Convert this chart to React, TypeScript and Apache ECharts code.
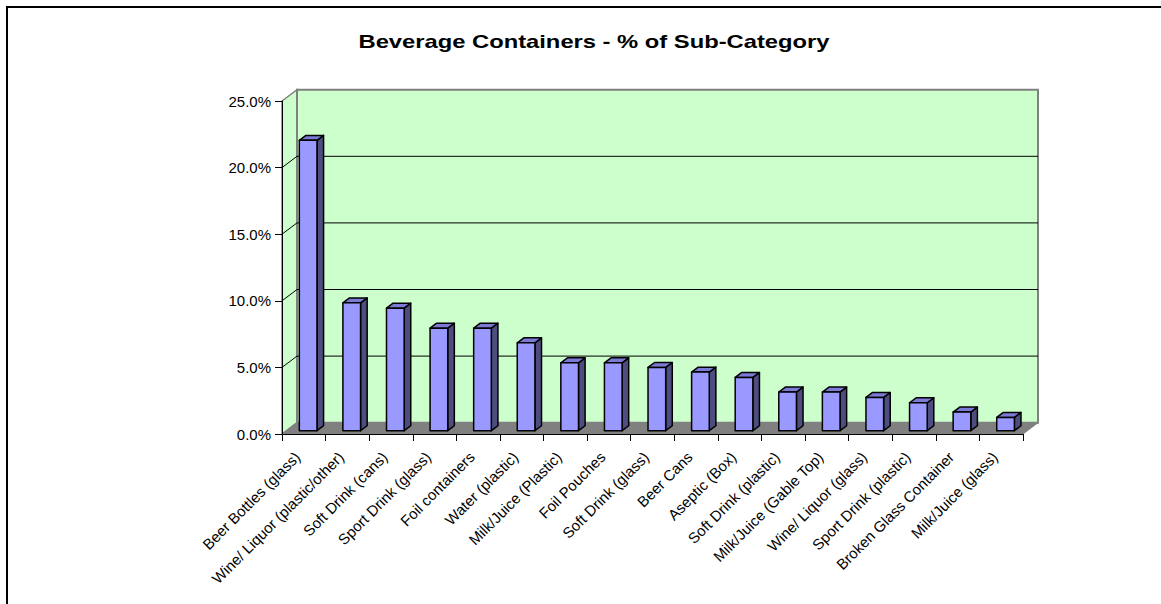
import React, { useEffect, useRef } from "react";
import * as echarts from "echarts";

const TITLE = "Beverage Containers - % of Sub-Category";
const CATEGORIES = [
  "Beer Bottles (glass)",
  "Wine/ Liquor (plastic/other)",
  "Soft Drink (cans)",
  "Sport Drink (glass)",
  "Foil containers",
  "Water (plastic)",
  "Milk/Juice (Plastic)",
  "Foil Pouches",
  "Soft Drink (glass)",
  "Beer Cans",
  "Aseptic (Box)",
  "Soft Drink (plastic)",
  "Milk/Juice (Gable Top)",
  "Wine/ Liquor (glass)",
  "Sport Drink (plastic)",
  "Broken Glass Container",
  "Milk/Juice (glass)",
];
const VALUES = [21.8, 9.6, 9.2, 7.7, 7.7, 6.6, 5.1, 5.1, 4.75, 4.4, 4.0, 2.9, 2.9, 2.5, 2.1, 1.4, 1.0];
const Y_MIN = 0;
const Y_MAX = 25;
const Y_STEP = 5;
const GRID_VALUES = [5, 10, 15, 20];

// 3D projection style constants
const DEPTH_X = 15;
const DEPTH_Y = -11.3;
const BAR_FRONT = 0.29;
const BAR_DEPTH = 0.44;
const BAR_WIDTH = 0.405;

const FONT = 'Arial, "Liberation Sans", Helvetica, sans-serif';

export default function App() {
  const ref = useRef<HTMLDivElement>(null);

  useEffect(() => {
    if (!ref.current) return;
    const chart = echarts.init(ref.current, null, { renderer: "svg" });
    const n = CATEGORIES.length;

    const wallsRender = (params: any, api: any) => {
      const p0 = api.coord([0, Y_MIN]);
      const band = api.size([1, 0])[0];
      const xL = p0[0] - band / 2;
      const xR = api.coord([n - 1, Y_MIN])[0] + band / 2;
      const yB = p0[1];
      const yT = api.coord([0, Y_MAX])[1];
      const children: any[] = [];
      children.push({
        type: "polygon",
        shape: { points: [[xL, yB], [xL, yT], [xL + DEPTH_X, yT + DEPTH_Y], [xL + DEPTH_X, yB + DEPTH_Y]] },
        style: { fill: "#CCFFCC", stroke: "#808080", lineWidth: 1.5 },
      });
      children.push({
        type: "rect",
        shape: { x: xL + DEPTH_X, y: yT + DEPTH_Y, width: xR - xL, height: yB - yT },
        style: { fill: "#CCFFCC", stroke: "#808080", lineWidth: 2 },
      });
      GRID_VALUES.forEach((v) => {
        const y = api.coord([0, v])[1];
        children.push({
          type: "polyline",
          shape: { points: [[xL, y], [xL + DEPTH_X, y + DEPTH_Y], [xR + DEPTH_X, y + DEPTH_Y]] },
          style: { fill: "none", stroke: "#000", lineWidth: 1 },
        });
      });
      children.push({
        type: "polygon",
        shape: { points: [[xL, yB], [xR, yB], [xR + DEPTH_X, yB + DEPTH_Y], [xL + DEPTH_X, yB + DEPTH_Y]] },
        style: { fill: "#808080", stroke: "#808080", lineWidth: 1 },
      });
      return { type: "group", children };
    };

    const barRender = (params: any, api: any) => {
      const idx = api.value(0);
      const val = api.value(1);
      const base = api.coord([idx, 0]);
      const top = api.coord([idx, val]);
      const band = api.size([1, 0])[0];
      const w = band * BAR_WIDTH;
      const ox = DEPTH_X * BAR_FRONT;
      const oy = DEPTH_Y * BAR_FRONT;
      const bx = DEPTH_X * BAR_DEPTH;
      const by = DEPTH_Y * BAR_DEPTH;
      const x = base[0] - w / 2 + ox;
      const yt = top[1] + oy;
      const yb = base[1] + oy;
      const line = { stroke: "#000", lineWidth: 1.5, lineJoin: "round" };
      return {
        type: "group",
        children: [
          {
            type: "polygon",
            shape: { points: [[x + w, yt], [x + w + bx, yt + by], [x + w + bx, yb + by], [x + w, yb]] },
            style: { fill: "#4D4D80", ...line },
          },
          {
            type: "polygon",
            shape: { points: [[x, yt], [x + bx, yt + by], [x + w + bx, yt + by], [x + w, yt]] },
            style: { fill: "#7B7BD6", ...line },
          },
          {
            type: "rect",
            shape: { x, y: yt, width: w, height: yb - yt },
            style: { fill: "#9999FF", ...line },
          },
        ],
      };
    };

    chart.setOption({
      animation: false,
      backgroundColor: "#fff",
      grid: { left: 282, right: 138, top: 101, bottom: 170, containLabel: false },
      xAxis: {
        type: "category",
        data: CATEGORIES,
        z: 10,
        axisLine: { show: true, lineStyle: { color: "#000", width: 1 } },
        axisTick: { show: true, length: 7, lineStyle: { color: "#000" } },
        axisLabel: {
          rotate: 45,
          interval: 0,
          margin: 14,
          padding: [0, 9, 0, 0],
          color: "#000",
          fontSize: 15,
          fontFamily: FONT,
        },
      },
      yAxis: {
        type: "value",
        min: Y_MIN,
        max: Y_MAX,
        interval: Y_STEP,
        z: 10,
        axisLine: { show: true, lineStyle: { color: "#000", width: 1 } },
        axisTick: { show: true, length: 7, lineStyle: { color: "#000" } },
        splitLine: { show: false },
        axisLabel: {
          margin: 11,
          color: "#000",
          fontSize: 15,
          fontFamily: FONT,
          formatter: (v: number) => v.toFixed(1) + "%",
        },
      },
      graphic: [
        {
          type: "rect",
          shape: { x: 7, y: 7, width: 1180, height: 640 },
          style: { fill: "none", stroke: "#000", lineWidth: 2 },
          silent: true,
        },
        {
          type: "text",
          x: 594,
          y: 42,
          scaleX: 1.25,
          style: {
            text: TITLE,
            fontSize: 19,
            fontWeight: "bold",
            fontFamily: FONT,
            fill: "#000",
            textAlign: "center",
            textVerticalAlign: "middle",
          },
        },
      ],
      series: [
        {
          type: "custom",
          name: "walls",
          renderItem: wallsRender,
          data: [[0, 0]],
          encode: { x: 0, y: 1 },
          clip: false,
          silent: true,
          z: 1,
        },
        {
          type: "custom",
          name: "% of Sub-Category",
          renderItem: barRender,
          data: VALUES.map((v, i) => [i, v]),
          encode: { x: 0, y: 1 },
          clip: false,
          z: 3,
        },
      ],
    });

    return () => chart.dispose();
  }, []);

  return (
    <div
      ref={ref}
      style={{ position: "fixed", left: 0, top: 0, width: 1161, height: 604, background: "#fff" }}
    />
  );
}
